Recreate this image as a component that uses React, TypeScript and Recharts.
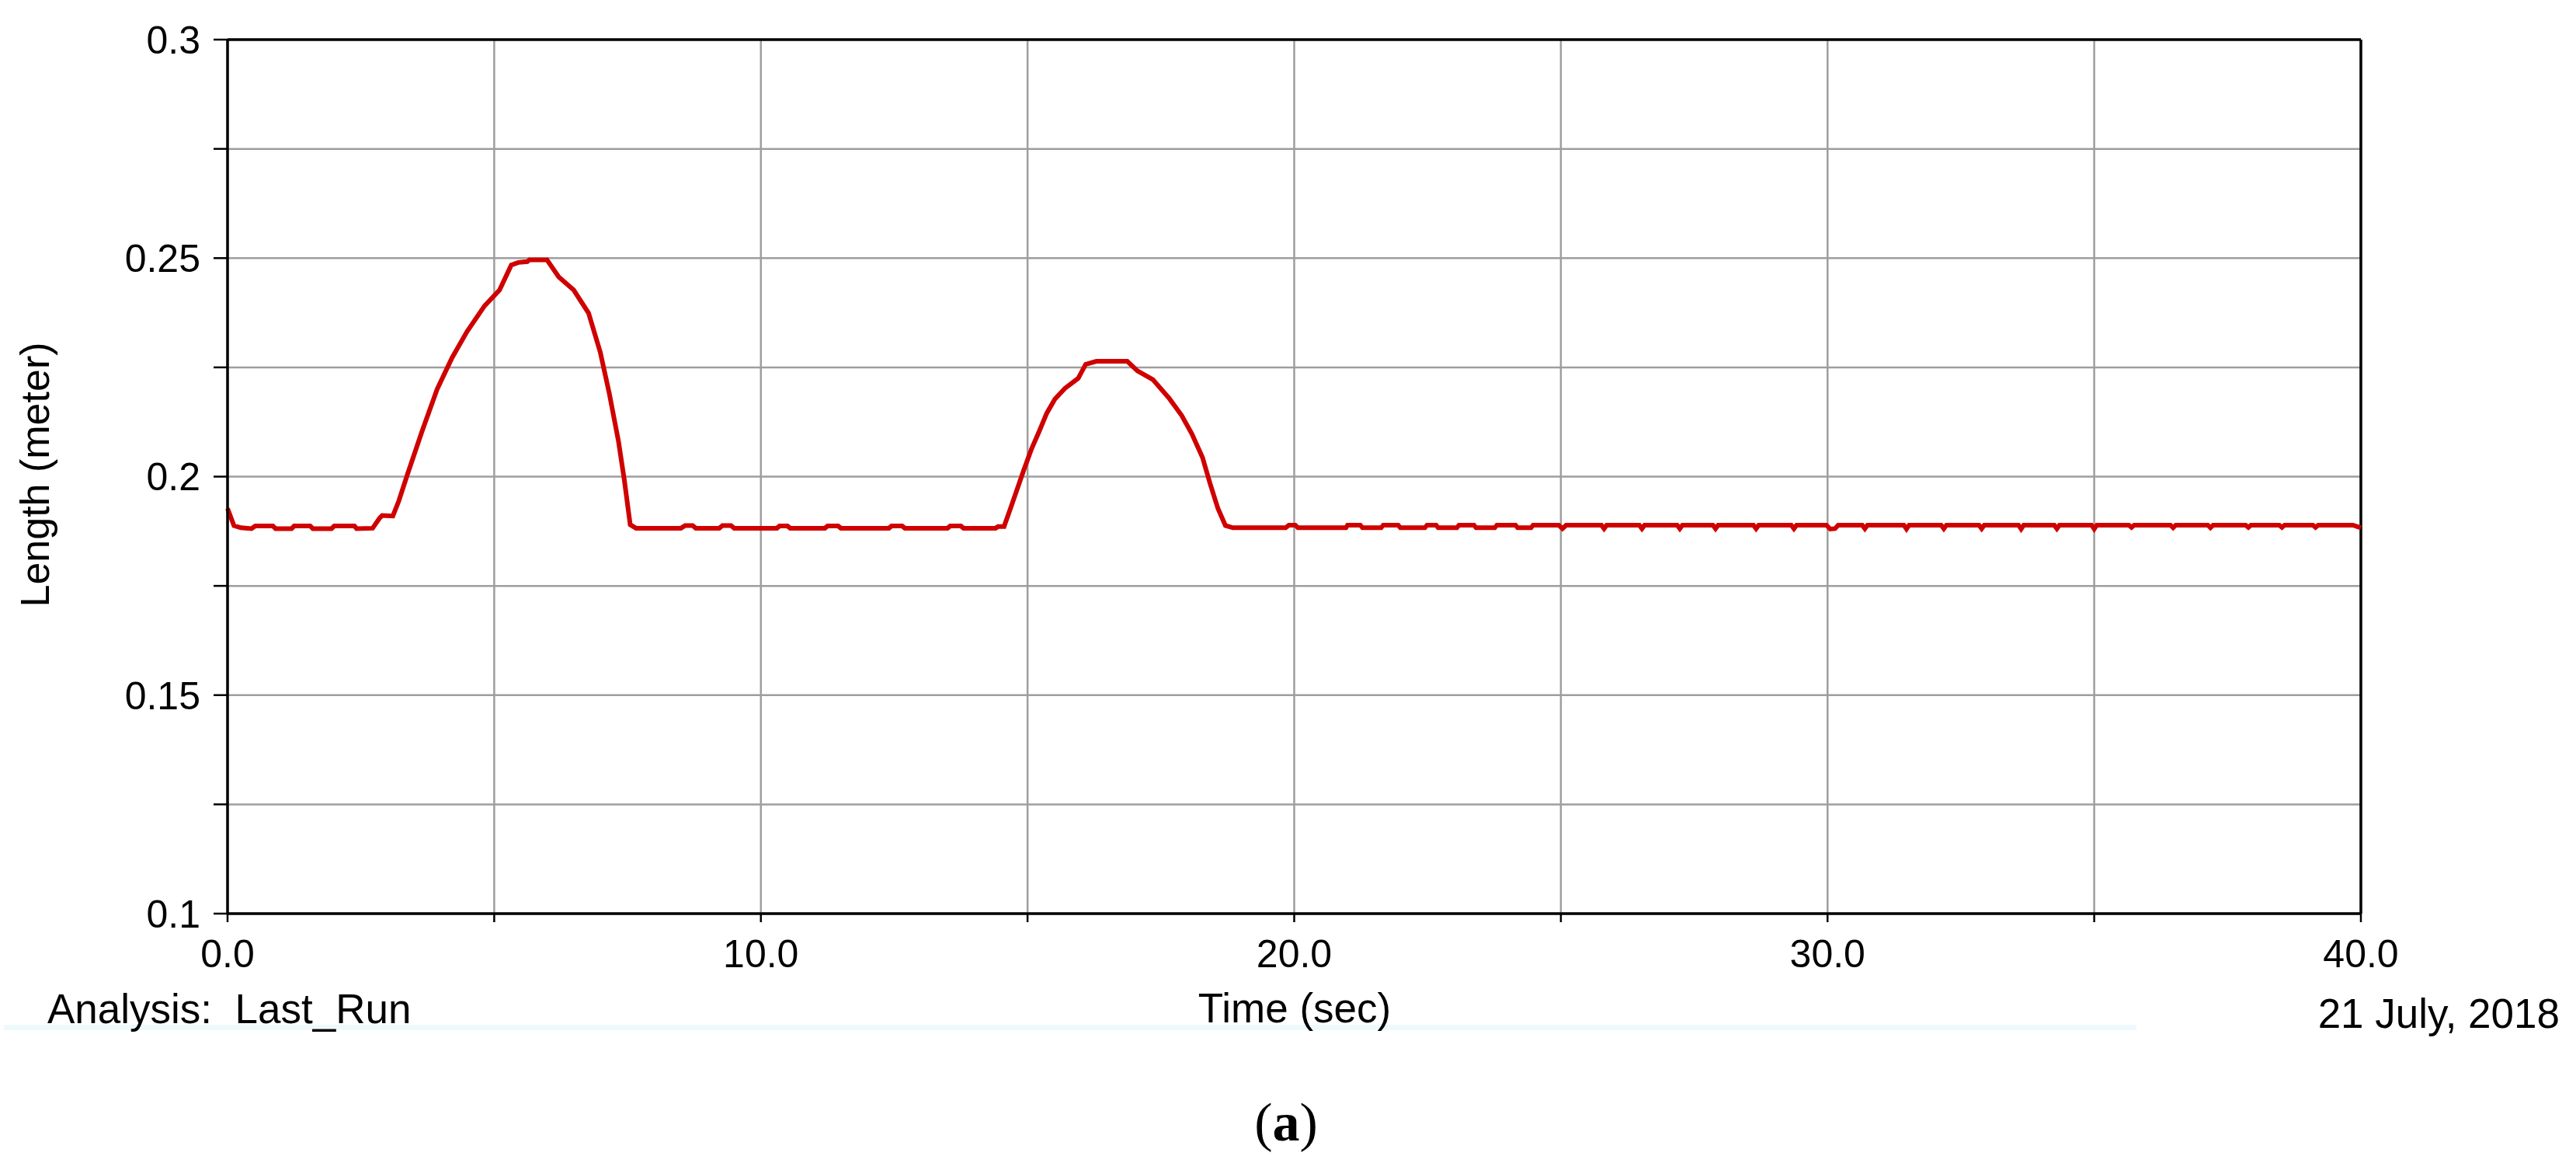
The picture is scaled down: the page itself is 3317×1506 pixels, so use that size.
import React from 'react';
import { LineChart, Line, XAxis, YAxis, CartesianGrid, ReferenceLine, Label, Customized } from 'recharts';

const timeSec = [
  0, 0.12, 0.25, 0.45, 0.52, 0.85, 0.9, 1.2, 1.25, 1.55, 1.6, 1.95, 2.0, 2.38, 2.42, 2.72,
  2.85, 2.9, 3.1, 3.21, 3.37, 3.65, 3.93, 4.21, 4.49, 4.82, 5.1, 5.32, 5.45, 5.62, 5.66, 5.99,
  6.21, 6.49, 6.77, 6.99, 7.16, 7.33, 7.44, 7.55, 7.66,
  8.5, 8.58, 8.72, 8.78, 9.22, 9.28, 9.44, 9.5, 10.3, 10.35, 10.5, 10.55, 11.2, 11.25, 11.45, 11.5,
  12.4, 12.45, 12.65, 12.7, 13.5, 13.55, 13.75, 13.8, 14.4, 14.45, 14.56,
  14.68, 14.81, 14.93, 15.07, 15.22, 15.36, 15.51, 15.7, 15.95, 16.09, 16.29, 16.87, 17.06, 17.35,
  17.65, 17.89, 18.08, 18.28, 18.42, 18.57, 18.71, 18.85,
  19.84, 19.9, 20.02, 20.07, 20.97, 21.0, 21.24, 21.28, 21.63, 21.67, 21.95, 21.99, 22.45, 22.49,
  22.66, 22.7, 23.05, 23.09, 23.37, 23.41, 23.76, 23.8, 24.15, 24.19, 24.44, 24.48, 24.96, 25.03,
  25.1, 25.76, 25.81, 25.86, 26.47, 26.52, 26.57, 27.18, 27.23, 27.28, 27.85, 27.9, 27.95, 28.61,
  28.66, 28.71, 29.32, 29.37, 29.42, 29.98, 30.05, 30.14, 30.2, 30.65, 30.7, 30.75, 31.43, 31.48,
  31.53, 32.13, 32.18, 32.23, 32.84, 32.89, 32.94, 33.58, 33.63, 33.68, 34.25, 34.3, 34.35, 34.95,
  35.0, 35.05, 35.65, 35.7, 35.75, 36.43, 36.48, 36.53, 37.13, 37.18, 37.23, 37.84, 37.89, 37.94,
  38.47, 38.52, 38.57, 39.1, 39.15, 39.2, 39.85, 40,
];

// Length (meter) at each time above
const lengthMeter = [
  0.1927, 0.1888, 0.1883, 0.1881, 0.1887, 0.1887, 0.1881, 0.1881, 0.1887, 0.1887, 0.1881, 0.1881, 0.1887, 0.1887, 0.1881, 0.1882,
  0.1905, 0.1911, 0.191, 0.1944, 0.2004, 0.2105, 0.22, 0.2272, 0.2332, 0.2391, 0.2427, 0.2484, 0.249, 0.2492, 0.2496, 0.2496,
  0.2457, 0.2427, 0.2374, 0.2284, 0.2189, 0.2081, 0.1992, 0.189, 0.1882,
  0.1882, 0.1888, 0.1888, 0.1882, 0.1882, 0.1888, 0.1888, 0.1882, 0.1882, 0.1887, 0.1887, 0.1882, 0.1882, 0.1887, 0.1887, 0.1882,
  0.1882, 0.1887, 0.1887, 0.1882, 0.1882, 0.1887, 0.1887, 0.1882, 0.1882, 0.1886, 0.1886,
  0.1927, 0.1973, 0.2015, 0.2062, 0.2104, 0.2145, 0.2177, 0.2202, 0.2225, 0.2257, 0.2264, 0.2264, 0.2242, 0.2222,
  0.218, 0.214, 0.2098, 0.2044, 0.1985, 0.1927, 0.1888, 0.1883,
  0.1883, 0.1889, 0.1889, 0.1883, 0.1883, 0.1889, 0.1889, 0.1883, 0.1883, 0.1889, 0.1889, 0.1883, 0.1883, 0.1889,
  0.1889, 0.1883, 0.1883, 0.1889, 0.1889, 0.1883, 0.1883, 0.1889, 0.1889, 0.1883, 0.1883, 0.1889, 0.1889, 0.1881,
  0.1889, 0.1889, 0.1881, 0.1889, 0.1889, 0.1881, 0.1889, 0.1889, 0.1881, 0.1889, 0.1889, 0.1881, 0.1889, 0.1889,
  0.1881, 0.1889, 0.1889, 0.1881, 0.1889, 0.1889, 0.188, 0.1881, 0.1889, 0.1889, 0.1881, 0.1889, 0.1889, 0.188,
  0.1889, 0.1889, 0.1881, 0.1889, 0.1889, 0.1881, 0.1889, 0.1889, 0.188, 0.1889, 0.1889, 0.1881, 0.1889, 0.1889,
  0.188, 0.1889, 0.1889, 0.1884, 0.1889, 0.1889, 0.1883, 0.1889, 0.1889, 0.1883, 0.1889, 0.1889, 0.1884, 0.1889,
  0.1889, 0.1884, 0.1889, 0.1889, 0.1884, 0.1889, 0.1889, 0.1883,
];

const xTicks = [0, 5, 10, 15, 20, 25, 30, 35, 40];
const xTickLabels = ['0.0', '', '10.0', '', '20.0', '', '30.0', '', '40.0'];
const yTicks = [0.1, 0.125, 0.15, 0.175, 0.2, 0.225, 0.25, 0.275, 0.3];
const yTickLabels = ['0.1', '', '0.15', '', '0.2', '', '0.25', '', '0.3'];

const data = timeSec.map((t, i) => ({ t, len: lengthMeter[i] }));

const FONT = '"Liberation Sans", Arial, Helvetica, sans-serif';
const SERIF = '"Liberation Serif", "Times New Roman", serif';

const fmtX = (v: number) => {
  const i = xTicks.findIndex((x) => Math.abs(x - v) < 1e-6);
  return i >= 0 ? xTickLabels[i] : '';
};
const fmtY = (v: number) => {
  const i = yTicks.findIndex((y) => Math.abs(y - v) < 1e-6);
  return i >= 0 ? yTickLabels[i] : '';
};

const Extras = () => (
  <g>
    <rect x={5} y={1319} width={2746} height={7} fill="#eef9fc" />
    <text x={61} y={1317} fontFamily={FONT} fontSize={53} fill="#000" style={{ whiteSpace: 'pre' }}>
      {'Analysis:  Last_Run'}
    </text>
    <text x={3296} y={1323} textAnchor="end" fontFamily={FONT} fontSize={53} fill="#000">
      21 July, 2018
    </text>
    <text x={1656} y={1468} textAnchor="middle" fontFamily={SERIF} fontSize={70} fill="#000">
      (<tspan fontWeight="bold">a</tspan>)
    </text>
  </g>
);

export default function App() {
  return (
    <div style={{ position: 'absolute', left: 0, top: 0, width: 3317, height: 1506, background: '#fff' }}>
      <LineChart width={3317} height={1506} data={data} margin={{ top: 51, right: 277, left: 0, bottom: 0 }}>
        <CartesianGrid stroke="#9e9e9e" strokeWidth={2.5} />
        <XAxis
          dataKey="t"
          type="number"
          domain={[0, 40]}
          ticks={xTicks}
          interval={0}
          tickFormatter={fmtX}
          height={330}
          tickSize={11}
          tickMargin={22}
          axisLine={{ stroke: '#000', strokeWidth: 3.5 }}
          tickLine={{ stroke: '#000', strokeWidth: 2.5 }}
          tick={{ fill: '#000', fontSize: 50, fontFamily: FONT }}
        >
          <Label
            content={() => (
              <text x={1667} y={1316} textAnchor="middle" fontFamily={FONT} fontSize={53} fill="#000">
                Time (sec)
              </text>
            )}
          />
        </XAxis>
        <YAxis
          type="number"
          domain={[0.1, 0.3]}
          ticks={yTicks}
          interval={0}
          tickFormatter={fmtY}
          width={293}
          tickSize={18}
          tickMargin={17}
          axisLine={{ stroke: '#000', strokeWidth: 3.5 }}
          tickLine={{ stroke: '#000', strokeWidth: 2.5 }}
          tick={{ fill: '#000', fontSize: 50, fontFamily: FONT }}
        >
          <Label
            content={() => (
              <text
                x={45}
                y={611}
                transform="rotate(-90, 45, 611)"
                textAnchor="middle"
                dominantBaseline="central"
                fontFamily={FONT}
                fontSize={52}
                fill="#000"
              >
                Length (meter)
              </text>
            )}
          />
        </YAxis>
        <ReferenceLine y={0.3} stroke="#000" strokeWidth={3.5} />
        <ReferenceLine x={40} stroke="#000" strokeWidth={3.5} />
        <Line
          type="linear"
          dataKey="len"
          stroke="#cf0000"
          strokeWidth={6}
          dot={false}
          activeDot={false}
          isAnimationActive={false}
        />
        <Customized component={Extras} />
      </LineChart>
    </div>
  );
}
